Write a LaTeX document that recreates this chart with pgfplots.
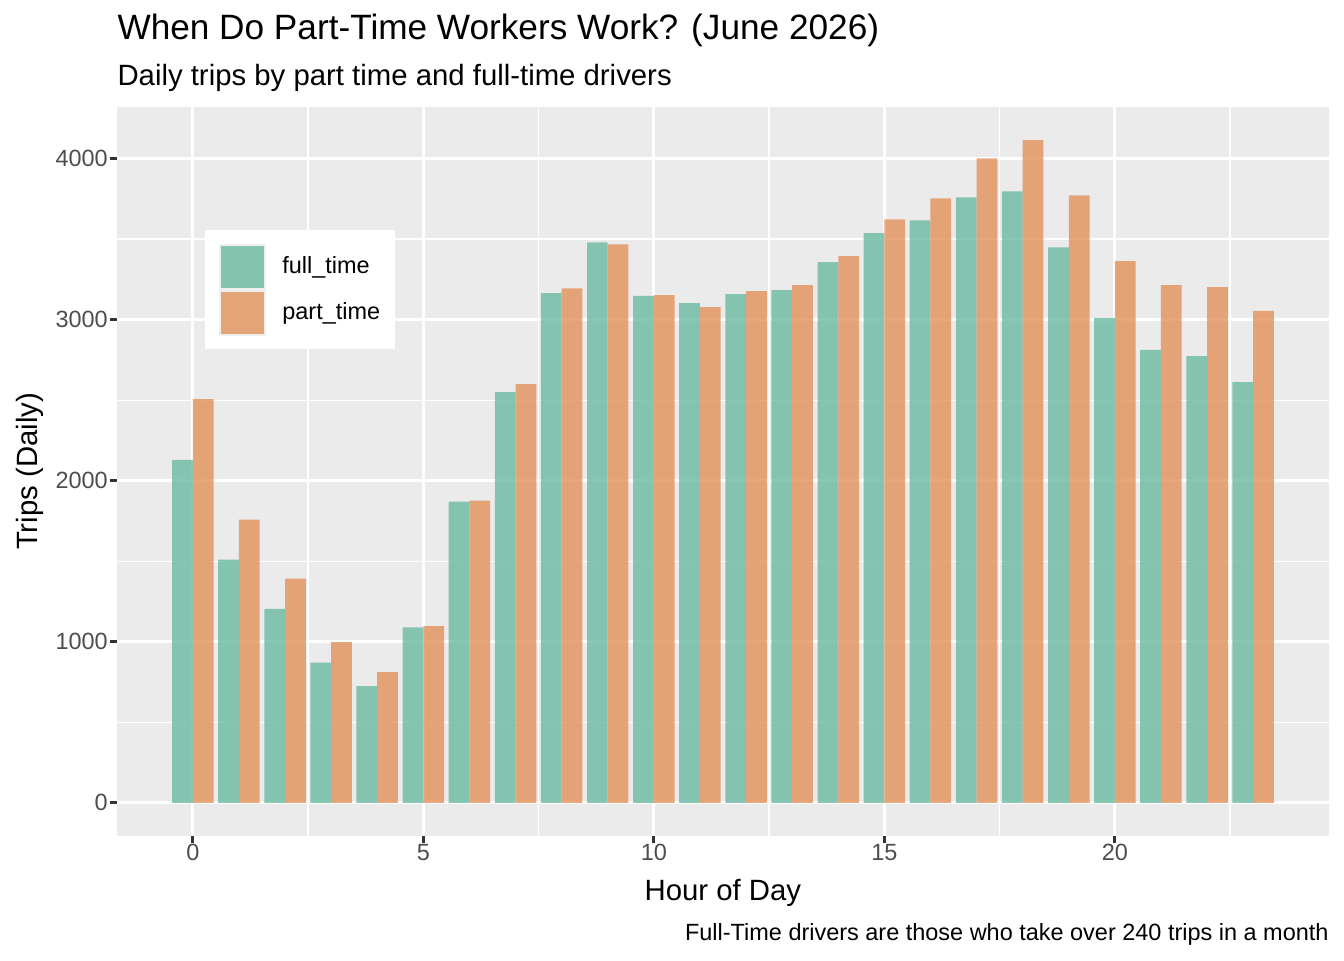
\documentclass[border=0pt]{standalone}
\usepackage{pgfplots}
\pgfplotsset{compat=1.18}
\usepackage{fontspec}
\setmainfont{Liberation Sans}
\definecolor{gray92}{HTML}{EBEBEB}
\definecolor{gray30}{HTML}{4D4D4D}
\definecolor{gray20}{HTML}{333333}
\definecolor{ftcol}{RGB}{106,186,160}
\definecolor{ptcol}{RGB}{225,146,90}
\pgfplotsset{
  legft/.style={legend image code/.code={
    \fill[gray92] (0pt,-8.64pt) rectangle (17.28pt,8.64pt);
    \fill[ftcol, fill opacity=0.8] (0.7pt,-7.94pt) rectangle (16.58pt,7.94pt);}},
  legpt/.style={legend image code/.code={
    \fill[gray92] (0pt,-8.64pt) rectangle (17.28pt,8.64pt);
    \fill[ptcol, fill opacity=0.8] (0.7pt,-7.94pt) rectangle (16.58pt,7.94pt);}},
}
\begin{document}
\begin{tikzpicture}
\path[use as bounding box] (0,0) rectangle (504pt,360pt);
\begin{axis}[
  at={(43.875pt,46.5pt)}, anchor=south west,
  scale only axis, width=454.5pt, height=273.4pt,
  xmin=-1.645, xmax=24.645, ymin=-205.75, ymax=4320.75,
  axis background/.style={fill=gray92},
  axis line style={draw=none},
  xtick={0,5,10,15,20}, ytick={0,1000,2000,3000,4000},
  minor xtick={2.5,7.5,12.5,17.5,22.5}, minor ytick={500,1500,2500,3500},
  grid=both,
  major grid style={white, line width=1.07pt},
  minor grid style={white, line width=0.53pt},
  tick align=outside, tick pos=left,
  major tick length=2.75pt, minor tick length=0pt,
  major tick style={gray20, line width=1.07pt},
  minor tick style={draw=none},
  /pgf/number format/assume math mode=true,
  scaled y ticks=false,
  yticklabel style={/pgf/number format/1000 sep={}, font=\fontsize{8.8}{10}\selectfont, text=gray30, anchor=east, inner sep=0pt, xshift=-0.5pt},
  xticklabel style={font=\fontsize{8.8}{10}\selectfont, text=gray30, anchor=north, inner sep=0pt},
  legend style={at={(0.0718,0.8313)}, anchor=north west, draw=none, fill=white,
    font=\fontsize{8.8}{10}\selectfont, inner xsep=5.6pt, inner ysep=5pt, row sep=0pt,
    nodes={inner xsep=0pt},
    /tikz/every odd column/.append style={column sep=6.3pt}},
  legend cell align=left,
]
\addplot[ybar, bar width=0.45, bar shift=-0.225, fill=ftcol, fill opacity=0.8, draw=none, legft] coordinates {
(0,2130) (1,1510) (2,1205) (3,870) (4,725) (5,1090) (6,1870) (7,2550) (8,3165) (9,3480) (10,3148) (11,3103)
(12,3158) (13,3184) (14,3358) (15,3537) (16,3616) (17,3759) (18,3797) (19,3449) (20,3009) (21,2812) (22,2774) (23,2613)};
\addlegendentry{full\_time}
\addplot[ybar, bar width=0.45, bar shift=0.225, fill=ptcol, fill opacity=0.8, draw=none, legpt] coordinates {
(0,2507) (1,1758) (2,1393) (3,998) (4,811) (5,1097) (6,1876) (7,2600) (8,3195) (9,3468) (10,3152) (11,3078)
(12,3177) (13,3214) (14,3394) (15,3622) (16,3753) (17,4001) (18,4115) (19,3772) (20,3363) (21,3214) (22,3202) (23,3054)};
\addlegendentry{part\_time}
\end{axis}
\node[anchor=base west, inner sep=0pt, font=\fontsize{13.2}{15}\selectfont] at (43.875pt,345pt) {When Do Part-Time Workers Work? (June 2026)};
\node[anchor=base west, inner sep=0pt, font=\fontsize{11}{13}\selectfont] at (43.875pt,328.1pt) {Daily trips by part time and full-time drivers};
\node[anchor=base, inner sep=0pt, font=\fontsize{11}{13}\selectfont] at (271.1pt,22.5pt) {Hour of Day};
\node[anchor=base, inner sep=0pt, rotate=90, font=\fontsize{11}{13}\selectfont] at (13.9pt,183.2pt) {Trips (Daily)};
\node[anchor=base east, inner sep=0pt, font=\fontsize{8.8}{10}\selectfont] at (498.4pt,7.5pt) {Full-Time drivers are those who take over 240 trips in a month};
\end{tikzpicture}
\end{document}
